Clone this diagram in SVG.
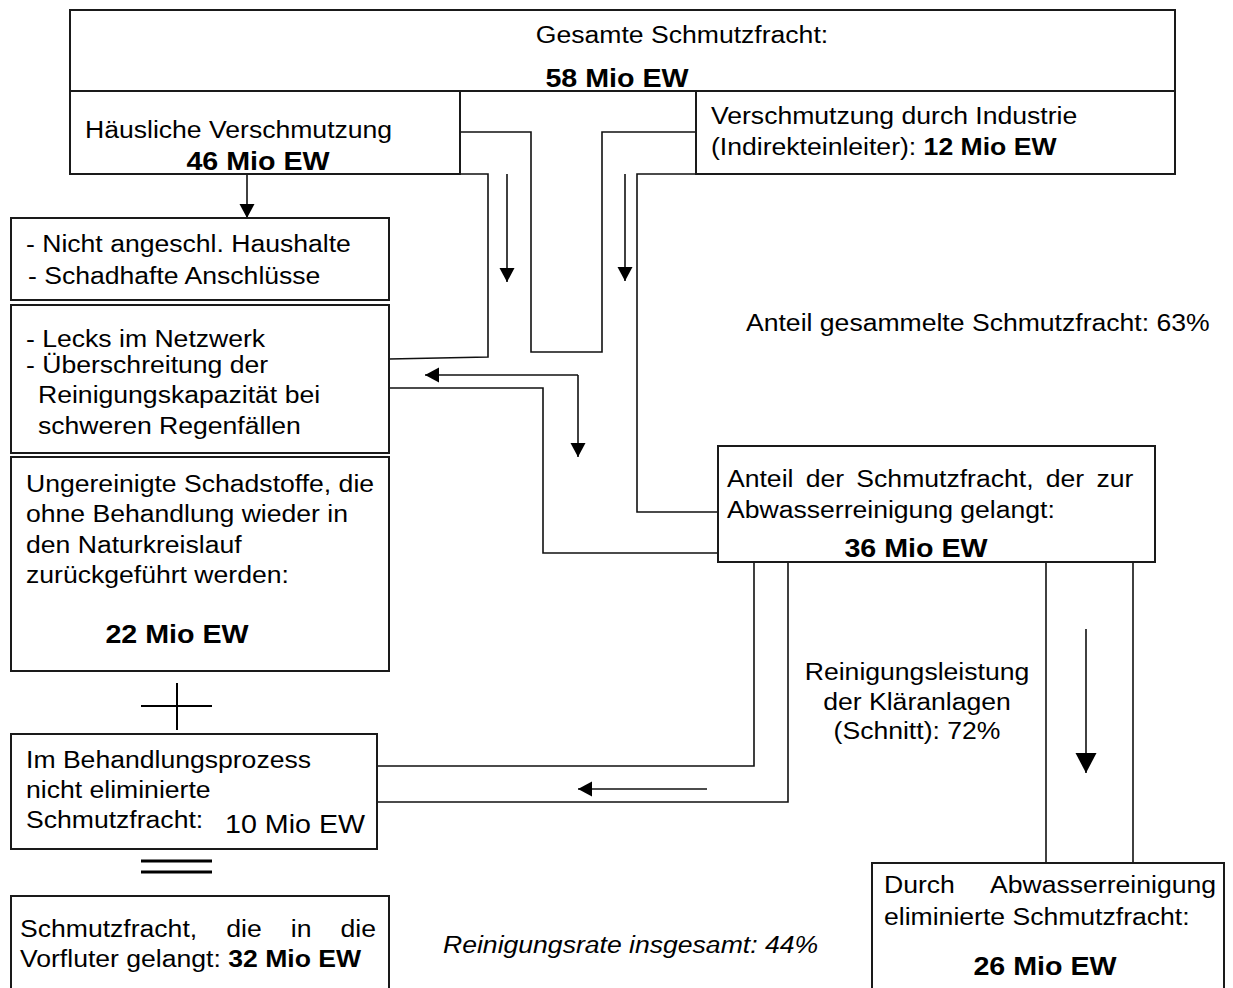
<svg xmlns="http://www.w3.org/2000/svg" width="1233" height="988" viewBox="0 0 1233 988">
<style>
  .box { fill: #fff; stroke: #1a1a1a; stroke-width: 2; }
  .ln { fill: none; stroke: #111; stroke-width: 1.6; }
  .sg { fill: none; stroke: #000; stroke-width: 2; }
  .sg2 { fill: none; stroke: #000; stroke-width: 3; }
  text { font-family: "Liberation Sans", Arial, sans-serif; font-size: 24.5px; fill: #000;
         transform: scaleX(1.085); transform-box: fill-box; transform-origin: 0 0; }
  .m { text-anchor: middle; transform-origin: 50% 0; }
  .e { text-anchor: end; transform-origin: 100% 0; }
  .b { font-weight: bold; }
  .big { font-size: 26.4px; }
  .it { font-style: italic; }
</style>
<defs>
  <marker id="ah" markerUnits="userSpaceOnUse" markerWidth="16" markerHeight="16" refX="14" refY="7.5" orient="auto">
    <path d="M0,0 L14,7.5 L0,15 Z" fill="#000"/>
  </marker>
  <marker id="ahb" markerUnits="userSpaceOnUse" markerWidth="22" markerHeight="22" refX="20" refY="10.5" orient="auto">
    <path d="M0,0 L20,10.5 L0,21 Z" fill="#000"/>
  </marker>
</defs>
<rect width="1233" height="988" fill="#fff"/>

<g id="connectors">
  <polyline class="ln" points="460,132 531,132 531,352 602,352 602,132 696,132"/>
  <polyline class="ln" points="460,174 488,174 488,357 389,359"/>
  <polyline class="ln" points="696,174 637,174 637,512 718,512"/>
  <line class="ln" x1="507" y1="174" x2="507" y2="282" marker-end="url(#ah)"/>
  <line class="ln" x1="625" y1="174" x2="625" y2="281" marker-end="url(#ah)"/>
  <line class="ln" x1="247" y1="174" x2="247" y2="218" marker-end="url(#ah)"/>
  <polyline class="ln" points="389,388 543,388 543,553 718,553"/>
  <line class="ln" x1="578" y1="375" x2="425" y2="375" marker-end="url(#ah)"/>
  <line class="ln" x1="578" y1="375" x2="578" y2="457" marker-end="url(#ah)"/>
  <polyline class="ln" points="754,562 754,766 377,766"/>
  <polyline class="ln" points="788,562 788,802 377,802"/>
  <line class="ln" x1="707" y1="789" x2="578" y2="789" marker-end="url(#ah)"/>
  <line class="ln" x1="1046" y1="562" x2="1046" y2="863"/>
  <line class="ln" x1="1133" y1="562" x2="1133" y2="863"/>
  <line class="ln" x1="1086" y1="629" x2="1086" y2="773" marker-end="url(#ahb)"/>
</g>

<g id="top">
  <rect class="box" x="70" y="10" width="1105" height="81"/>
  <text class="m" x="682" y="43">Gesamte Schmutzfracht:</text>
  <text class="m b big" x="617" y="87">58 Mio EW</text>
</g>

<g id="haeuslich">
  <rect class="box" x="70" y="91" width="390" height="83"/>
  <text x="85" y="138">Häusliche Verschmutzung</text>
  <text class="m b big" x="258" y="170">46 Mio EW</text>
</g>

<g id="industrie">
  <rect class="box" x="696" y="91" width="479" height="83"/>
  <text x="711" y="124">Verschmutzung durch Industrie</text>
  <text x="711" y="155">(Indirekteinleiter): <tspan class="b">12 Mio EW</tspan></text>
</g>

<g id="nicht">
  <rect class="box" x="11" y="218" width="378" height="82"/>
  <text x="26" y="252">- Nicht angeschl. Haushalte</text>
  <text x="28" y="284">- Schadhafte Anschlüsse</text>
</g>

<g id="lecks">
  <rect class="box" x="11" y="305" width="378" height="148"/>
  <text x="26" y="347">- Lecks im Netzwerk</text>
  <text x="26" y="373">- Überschreitung der</text>
  <text x="38" y="403">Reinigungskapazität bei</text>
  <text x="38" y="434">schweren Regenfällen</text>
</g>

<g id="ungereinigt">
  <rect class="box" x="11" y="457" width="378" height="214"/>
  <text x="26" y="492">Ungereinigte Schadstoffe, die</text>
  <text x="26" y="522">ohne Behandlung wieder in</text>
  <text x="26" y="553">den Naturkreislauf</text>
  <text x="26" y="583">zurückgeführt werden:</text>
  <text class="m b big" x="177" y="643">22 Mio EW</text>
</g>

<g id="plus">
  <line class="sg" x1="177" y1="683" x2="177" y2="730"/>
  <line class="sg" x1="141" y1="706" x2="212" y2="706"/>
</g>

<g id="behandlung">
  <rect class="box" x="11" y="734" width="366" height="115"/>
  <text x="26" y="768">Im Behandlungsprozess</text>
  <text x="26" y="798">nicht eliminierte</text>
  <text x="26" y="828">Schmutzfracht:</text>
  <text class="big" x="225" y="833">10 Mio EW</text>
</g>

<g id="gleich">
  <line class="sg2" x1="141" y1="861" x2="212" y2="861"/>
  <line class="sg2" x1="141" y1="872" x2="212" y2="872"/>
</g>

<g id="vorfluter">
  <rect class="box" x="11" y="896" width="378" height="100"/>
  <text x="20" y="937" style="word-spacing:20px">Schmutzfracht, die in die</text>
  <text x="20" y="967">Vorfluter gelangt: <tspan class="b">32 Mio EW</tspan></text>
</g>

<g id="anteil-gesammelt">
  <text x="746" y="331">Anteil gesammelte Schmutzfracht: 63%</text>
</g>

<g id="anteil-reinigung">
  <rect class="box" x="718" y="446" width="437" height="116"/>
  <text x="727" y="487" style="word-spacing:4.5px">Anteil der Schmutzfracht, der zur</text>
  <text x="727" y="518">Abwasserreinigung gelangt:</text>
  <text class="m b big" x="916" y="557">36 Mio EW</text>
</g>

<g id="reinigungsleistung">
  <text class="m" x="917" y="680">Reinigungsleistung</text>
  <text class="m" x="917" y="710">der Kläranlagen</text>
  <text class="m" x="917" y="739">(Schnitt): 72%</text>
</g>

<g id="reinigungsrate">
  <text class="it" x="443" y="953">Reinigungsrate insgesamt: 44%</text>
</g>

<g id="eliminiert">
  <rect class="box" x="872" y="863" width="352" height="135"/>
  <text x="884" y="893">Durch</text>
  <text class="e" x="1216" y="893">Abwasserreinigung</text>
  <text x="884" y="925">eliminierte Schmutzfracht:</text>
  <text class="m b big" x="1045" y="975">26 Mio EW</text>
</g>
</svg>
